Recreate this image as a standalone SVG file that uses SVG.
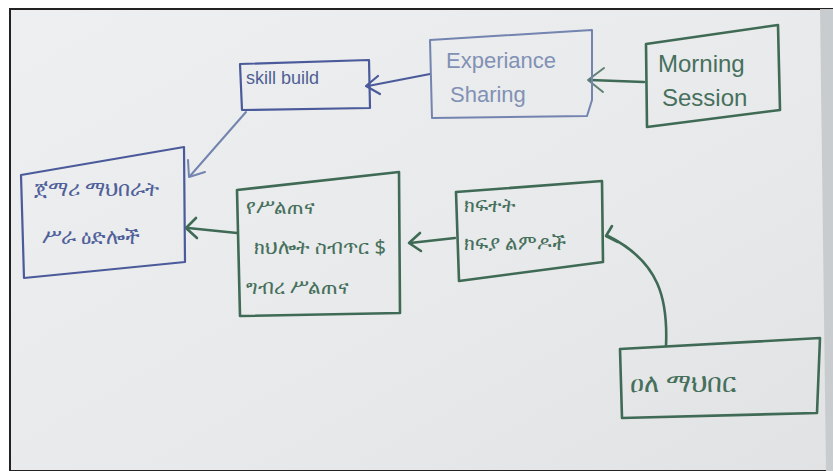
<svg xmlns="http://www.w3.org/2000/svg" width="833" height="471" viewBox="0 0 833 471">
<defs>
<style>
.blue{fill:none;stroke:#4a5a9a;stroke-width:2.2;stroke-linejoin:round;stroke-linecap:round}
.lblue{fill:none;stroke:#7384b0;stroke-width:2;stroke-linejoin:round;stroke-linecap:round}
.green{fill:none;stroke:#3f6a55;stroke-width:2.6;stroke-linejoin:round;stroke-linecap:round}
.lgreen{fill:none;stroke:#5f8272;stroke-width:2;stroke-linejoin:round;stroke-linecap:round}
.tb{font-family:"Liberation Sans","Noto Sans",sans-serif;font-size:18px;fill:#4f5f95}
.tlb{font-family:"Liberation Sans","Noto Sans",sans-serif;font-size:22px;fill:#8191b5}
.tg{font-family:"Noto Sans","Liberation Sans",sans-serif;font-size:20px;fill:#46705c}
.tgs{font-family:"Liberation Sans","Noto Sans",sans-serif;font-size:24px;fill:#46705c}
.ta{font-family:"Noto Sans","DejaVu Sans",sans-serif;font-size:21px;fill:#50609a}
</style>
<linearGradient id="paper" x1="0" y1="0" x2="1" y2="1">
<stop offset="0" stop-color="#eeeff0"/>
<stop offset="0.6" stop-color="#e8e9ea"/>
<stop offset="1" stop-color="#e1e2e3"/>
</linearGradient>
</defs>
<rect x="0" y="0" width="833" height="471" fill="#ffffff"/>
<rect x="10" y="9" width="823" height="462" fill="url(#paper)" stroke="#222" stroke-width="2"/>
<path d="M820 9 L833 9 L833 471 L826 471 Z" fill="#c9cccf"/>

<g id="connectors">
<path class="green" d="M644 82 L590 80"/>
<path class="lgreen" d="M604 68 L588 80 L603 92"/>
<path class="blue" d="M430 74 L368 86"/>
<path class="blue" d="M378 76 L366 86 L380 94"/>
<path class="lblue" d="M246 112 L190 176"/>
<path class="lblue" d="M188 160 L189 177 L205 172"/>
<path class="green" d="M237 233 L188 228"/>
<path class="green" d="M196 218 L186 228 L197 238"/>
<path class="green" d="M455 238 L410 243"/>
<path class="green" d="M420 233 L409 243 L421 251"/>
<path class="green" d="M666 346 C 668 300 660 262 608 236"/>
<path class="green" d="M612 226 L606 236 L618 242"/>
</g>

<g id="skill-build">
<path class="blue" d="M240 64 L369 60 L370 108 L242 110 Z"/>
<text class="tb" x="246" y="84">skill build</text>
</g>

<g id="experience-sharing">
<path class="lblue" d="M430 40 L592 30 L592 100 L587 116 L432 118 Z"/>
<text class="tlb" x="446" y="68">Experiance</text>
<text class="tlb" x="450" y="102">Sharing</text>
</g>

<g id="morning-session">
<path class="green" d="M646 44 L778 25 L780 110 L647 127 Z"/>
<text class="tgs" x="658" y="72">Morning</text>
<text class="tgs" x="662" y="106">Session</text>
</g>

<g id="left-node">
<path class="blue" d="M21 175 L184 147 L185 262 L24 278 Z"/>
<text class="ta" x="34" y="196">ጀማሪ ማህበራት</text>
<text class="ta" x="42" y="244">ሥራ ዕድሎች</text>
</g>

<g id="middle-node">
<path class="green" d="M237 190 L399 172 L400 313 L240 316 Z"/>
<text class="tg" x="246" y="214">የሥልጠና</text>
<text class="tg" x="254" y="254">ክህሎት ስብጥር $</text>
<text class="tg" x="246" y="294">ግብረ ሥልጠና</text>
</g>

<g id="middle-right-node">
<path class="green" d="M456 192 L602 181 L603 262 L459 281 Z"/>
<text class="tg" x="464" y="212">ክፍተት</text>
<text class="tg" x="464" y="250">ክፍያ ልምዶች</text>
</g>

<g id="bottom-right-node">
<path class="green" d="M620 349 L820 338 L817 413 L622 418 Z"/>
<text class="tg" x="630" y="392" style="font-size:26px">ዐለ ማህበር</text>
</g>
</svg>
